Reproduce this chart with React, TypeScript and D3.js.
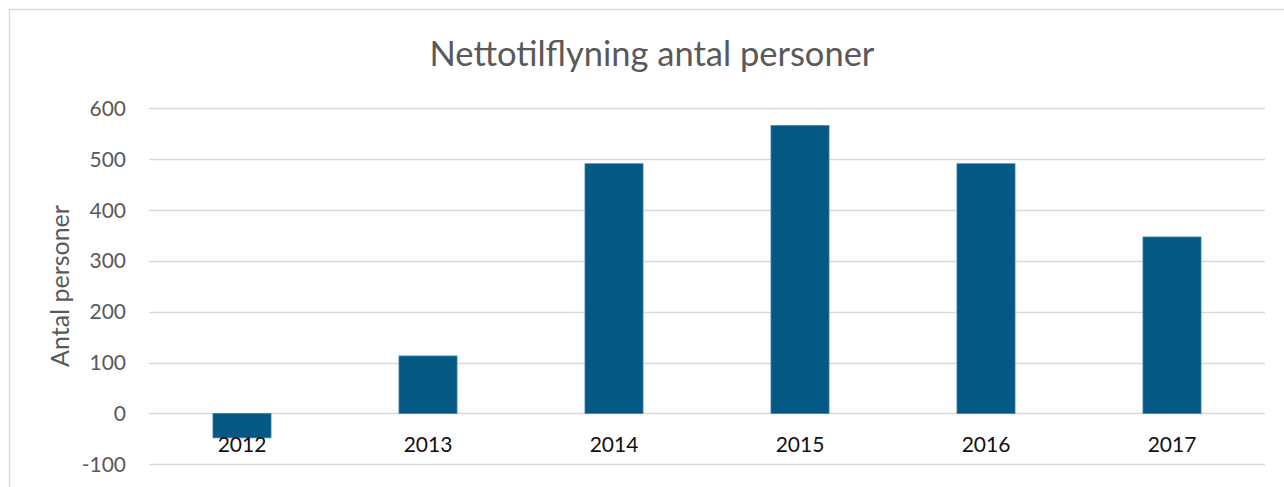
import React, { useRef, useEffect } from 'react';
import * as d3 from 'd3';

const years = ['2012', '2013', '2014', '2015', '2016', '2017'];
const netMigration = [-48, 113, 491, 566, 491, 347];
const yTicks = [-100, 0, 100, 200, 300, 400, 500, 600];
const title = 'Nettotilflyning antal personer';
const yLabel = 'Antal personer';

export default function App() {
  const svgRef = useRef<SVGSVGElement>(null);
  const width = 1284;
  const height = 487;
  const font = 'Lato, "Open Sans", sans-serif';

  useEffect(() => {
    const svg = d3.select(svgRef.current);
    svg.selectAll('*').remove();

    const xScale = d3.scaleBand<string>()
      .domain(years)
      .range([149, 1265])
      .paddingInner(0.688)
      .paddingOuter(0.344);

    const yScale = d3.scaleLinear()
      .domain([-100, 600])
      .range([464.3, 108.3]);

    // chart frame
    svg.append('rect')
      .attr('x', 9.5)
      .attr('y', 9.5)
      .attr('width', 1300)
      .attr('height', 600)
      .attr('fill', 'white')
      .attr('stroke', '#d9d9d9')
      .attr('stroke-width', 1.5);

    // gridlines
    svg.append('g')
      .selectAll('line')
      .data(yTicks)
      .join('line')
      .attr('x1', 149)
      .attr('x2', 1265)
      .attr('y1', d => Math.round(yScale(d)) + 0.5)
      .attr('y2', d => Math.round(yScale(d)) + 0.5)
      .attr('stroke', '#d9d9d9')
      .attr('stroke-width', 1.5);

    // y tick labels
    svg.append('g')
      .selectAll('text')
      .data(yTicks)
      .join('text')
      .attr('x', 126)
      .attr('y', d => yScale(d))
      .attr('dy', '0.36em')
      .attr('text-anchor', 'end')
      .attr('font-family', font)
      .attr('font-size', 21)
      .attr('fill', '#595959')
      .text(d => d);

    // bars
    svg.append('g')
      .selectAll('rect')
      .data(netMigration)
      .join('rect')
      .attr('x', (d, i) => xScale(years[i])!)
      .attr('width', xScale.bandwidth())
      .attr('y', d => yScale(Math.max(0, d)))
      .attr('height', d => Math.abs(yScale(d) - yScale(0)))
      .attr('fill', '#035884')
      .attr('stroke', '#3b83ad')
      .attr('stroke-width', 0.8);

    // x labels
    svg.append('g')
      .selectAll('text')
      .data(years)
      .join('text')
      .attr('x', d => xScale(d)! + xScale.bandwidth() / 2)
      .attr('y', 451.5)
      .attr('text-anchor', 'middle')
      .attr('font-family', font)
      .attr('font-size', 21)
      .attr('fill', '#111')
      .text(d => d);

    // title
    svg.append('text')
      .attr('x', 652)
      .attr('y', 66)
      .attr('text-anchor', 'middle')
      .attr('font-family', font)
      .attr('font-size', 34.5)
      .attr('fill', '#595959')
      .text(title);

    // y axis title
    svg.append('text')
      .attr('transform', 'translate(69,286) rotate(-90)')
      .attr('text-anchor', 'middle')
      .attr('font-family', font)
      .attr('font-size', 25)
      .attr('fill', '#595959')
      .text(yLabel);
  }, []);

  return (
    <svg
      ref={svgRef}
      width={width}
      height={height}
      style={{ position: 'absolute', left: 0, top: 0, background: 'white' }}
    />
  );
}
